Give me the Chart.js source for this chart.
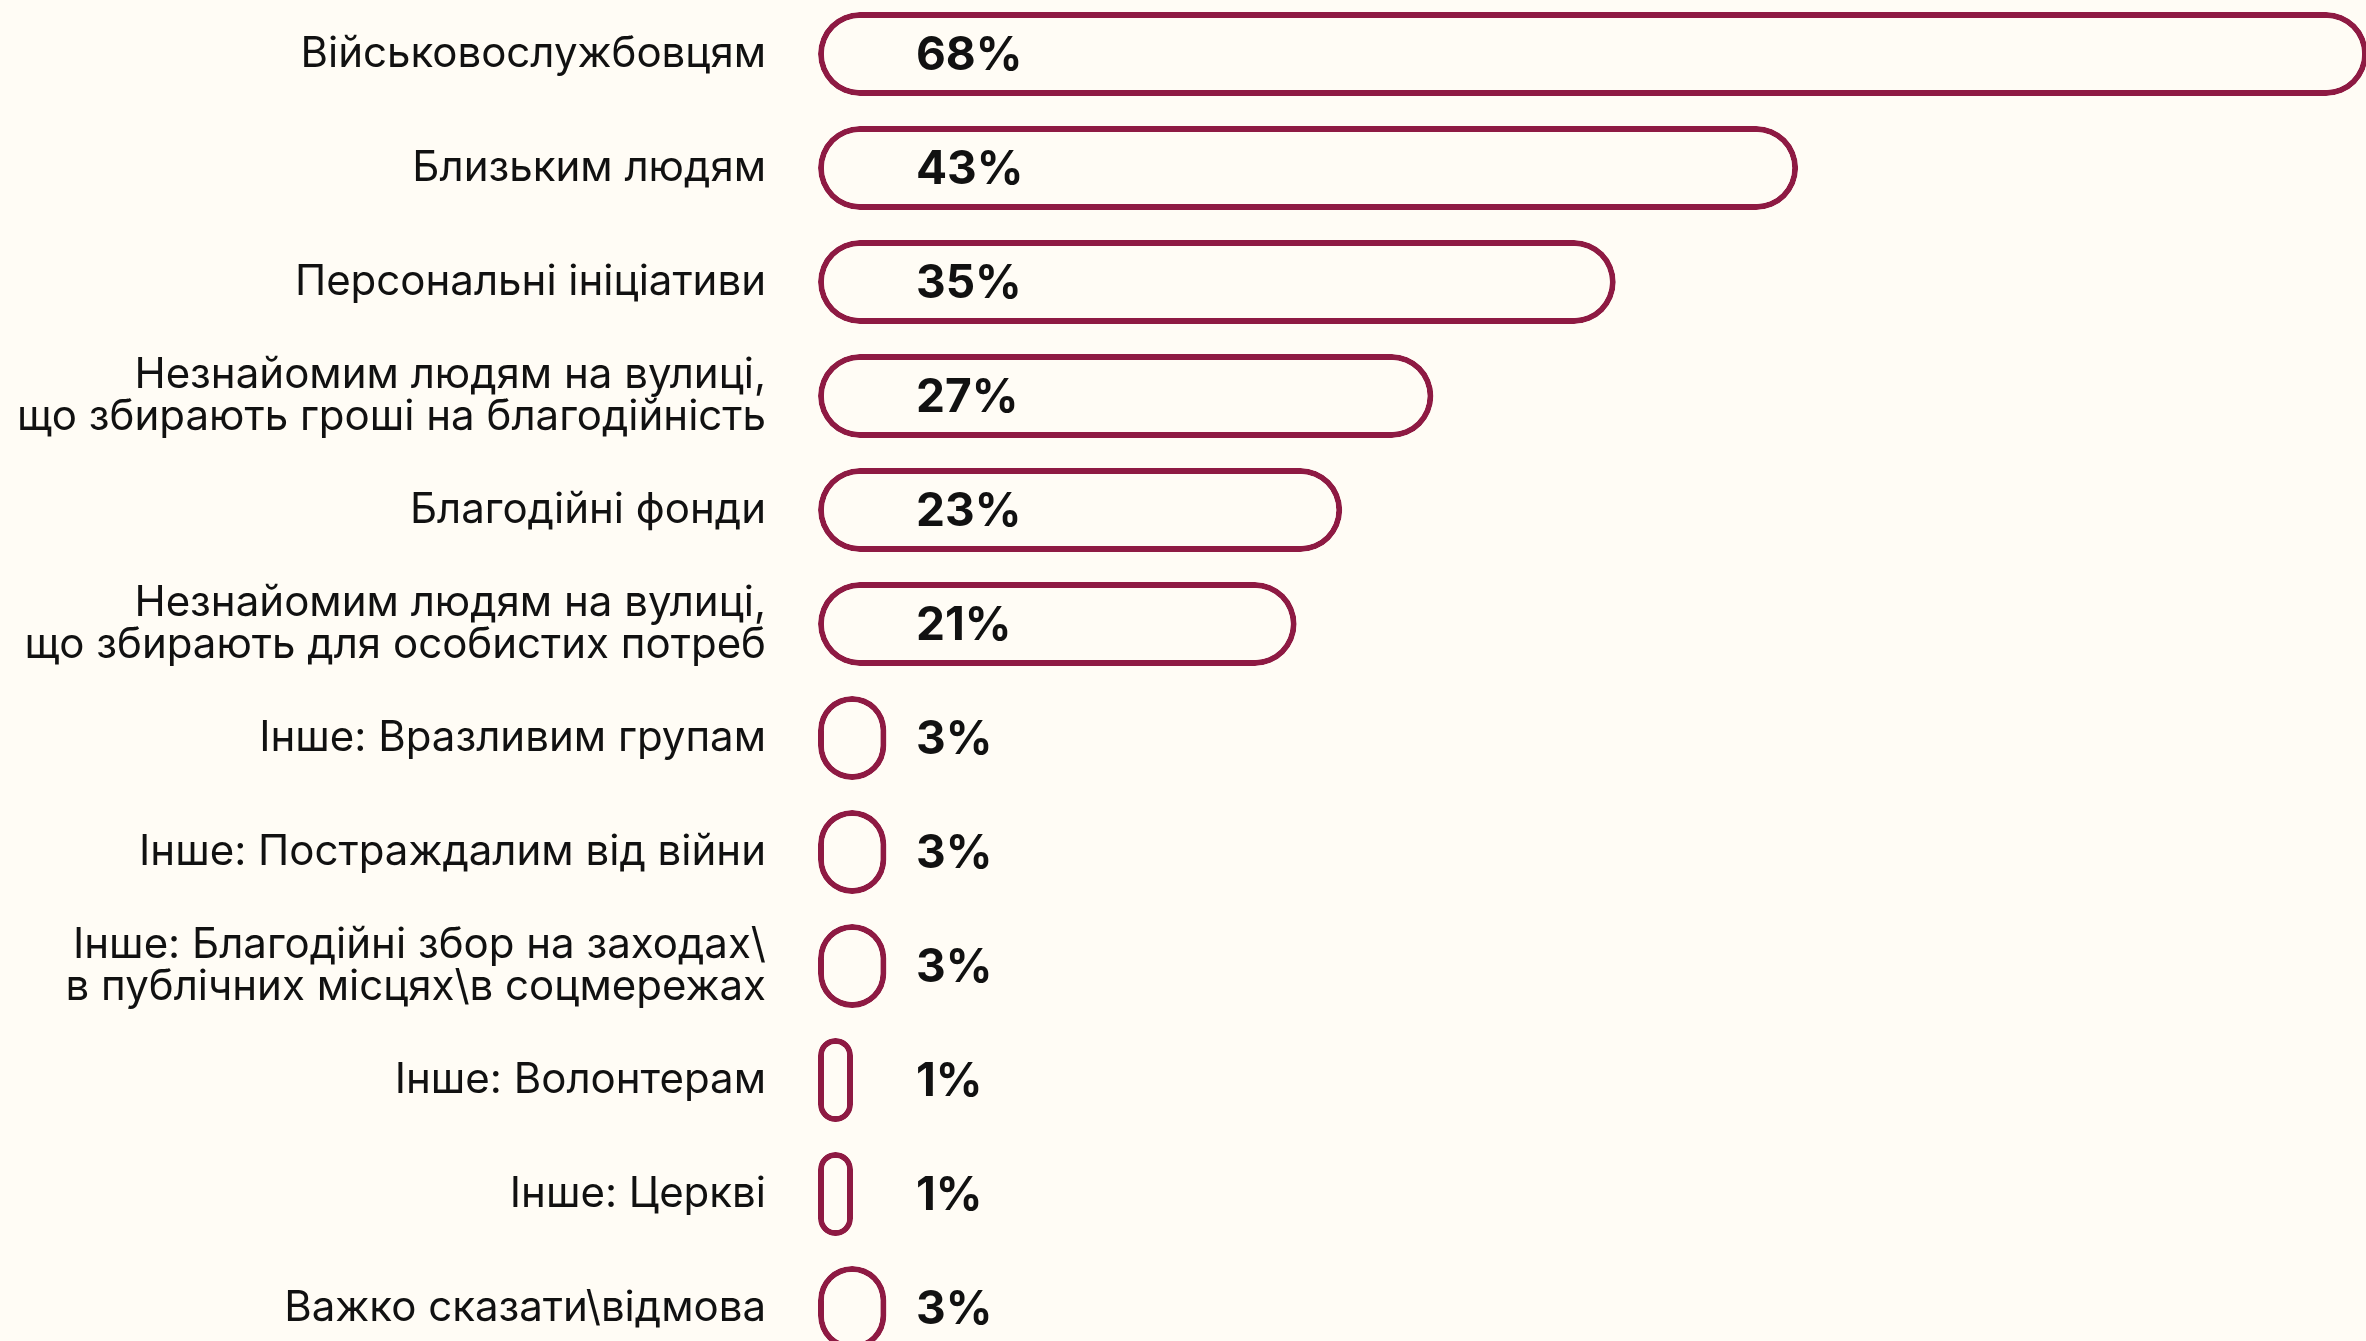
<!DOCTYPE html>
<html lang="uk">
<head>
<meta charset="utf-8">
<title>Кому жертвували кошти</title>
<script src="https://cdn.jsdelivr.net/npm/chart.js@4.4.1/dist/chart.umd.min.js"></script>
<style>
  html, body {
    margin: 0;
    padding: 0;
    background: #fffcf5;
    overflow: hidden;
    width: 2366px;
    height: 1341px;
  }
  #wrap {
    position: absolute;
    left: 0;
    top: -3px;
    width: 2372px;
    height: 1368px;
  }
</style>
</head>
<body>
<div id="wrap"><canvas id="donateChart"></canvas></div>
<script>
const categories = [
  'Військовослужбовцям',
  'Близьким людям',
  'Персональні ініціативи',
  ['Незнайомим людям на вулиці,', 'що збирають гроші на благодійність'],
  'Благодійні фонди',
  ['Незнайомим людям на вулиці,', 'що збирають для особистих потреб'],
  'Інше: Вразливим групам',
  'Інше: Постраждалим від війни',
  ['Інше: Благодійні збор на заходах\\', 'в публічних місцях\\в соцмережах'],
  'Інше: Волонтерам',
  'Інше: Церкві',
  'Важко сказати\\відмова'
];
const values = [68, 43, 35, 27, 23, 21, 3, 3, 3, 1, 1, 3];

const bg = '#fffcf5';
const wine = '#8e1a43';
const font = "Inter, 'Noto Sans', sans-serif";

// percentage text sits at a fixed offset from the start of the bars
const valueLabels = {
  id: 'valueLabels',
  afterDatasetsDraw(chart) {
    const ctx = chart.ctx;
    const x0 = chart.scales.x.getPixelForValue(0);
    const meta = chart.getDatasetMeta(0);
    ctx.save();
    ctx.font = '700 46px ' + font;
    ctx.fillStyle = '#111111';
    ctx.textAlign = 'left';
    ctx.textBaseline = 'middle';
    meta.data.forEach((bar, i) => {
      ctx.fillText(values[i] + '%', x0 + 98, bar.y + 2);
    });
    ctx.restore();
  }
};

new Chart(document.getElementById('donateChart'), {
  type: 'bar',
  data: {
    labels: categories,
    datasets: [{
      data: values,
      backgroundColor: bg,
      borderColor: wine,
      borderWidth: 6,
      borderRadius: 42,
      borderSkipped: false,
      barPercentage: 0.737,
      categoryPercentage: 1,
      minBarLength: 35
    }]
  },
  options: {
    indexAxis: 'y',
    responsive: true,
    maintainAspectRatio: false,
    animation: false,
    layout: { padding: { left: 0, right: 4, top: 0, bottom: 0 } },
    plugins: {
      legend: { display: false },
      tooltip: { enabled: false }
    },
    scales: {
      x: {
        display: false,
        min: 0,
        max: 68
      },
      y: {
        grid: { display: false, drawTicks: false },
        border: { display: false },
        afterFit(scale) {
          // fixed gutter for the labels, no extra space above/below the rows
          scale.width = 818;
          scale.paddingTop = 0;
          scale.paddingBottom = 0;
        },
        ticks: {
          padding: 52,
          color: '#111111',
          font: { family: font, size: 42, weight: '400', lineHeight: 1.0 }
        }
      }
    }
  },
  plugins: [valueLabels]
});
</script>
</body>
</html>
